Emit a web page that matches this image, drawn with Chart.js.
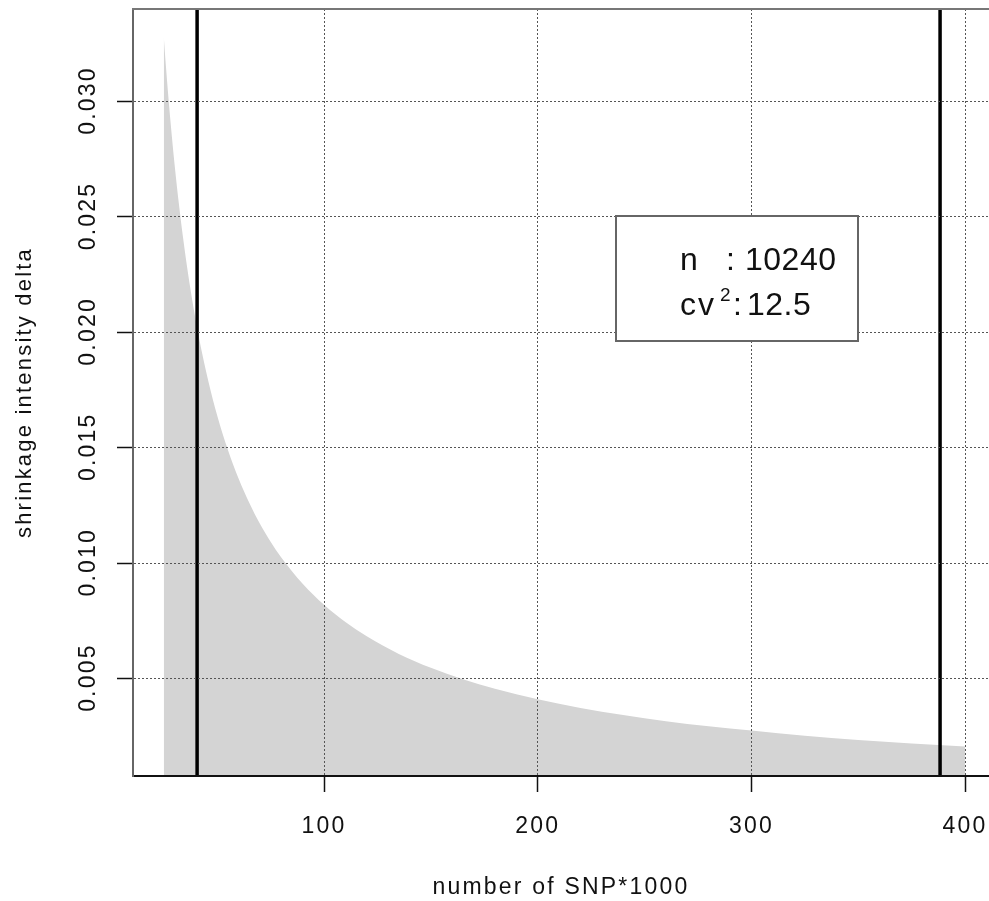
<!DOCTYPE html>
<html>
<head>
<meta charset="utf-8">
<style>
  html, body { margin: 0; padding: 0; background: #fff; overflow: hidden; }
</style>
<script src="https://cdn.jsdelivr.net/npm/chart.js@4/dist/chart.umd.min.js"></script>
</head>
<body>
<canvas id="shrinkChart" width="989" height="901"></canvas>
<script>
// number of SNP (x1000) and shrinkage intensity
const snpCount = [25, 26, 27, 28, 30, 32, 34, 36, 38, 40, 43, 46, 50, 55, 60, 65, 70, 75, 80, 90, 100, 110, 120, 135, 150, 165, 180, 200, 220, 240, 260, 280, 300, 325, 350, 375, 400];
const delta = [0.0328, 0.03154, 0.03037, 0.02929, 0.02733, 0.02563, 0.02412, 0.02278, 0.02158, 0.0205, 0.01907, 0.01783, 0.0164, 0.01491, 0.01367, 0.01262, 0.01171, 0.01093, 0.01025, 0.00911, 0.0082, 0.00745, 0.00683, 0.00607, 0.00547, 0.00497, 0.00456, 0.0041, 0.00373, 0.00342, 0.00315, 0.00293, 0.00275, 0.00252, 0.00234, 0.00219, 0.00206];
const markerX = [40.6, 388.3];            // the two black vertical lines
const xTicks = [100, 200, 300, 400];
const yTicks = [0.005, 0.010, 0.015, 0.020, 0.025, 0.030];
const yTickLabels = ['0.005', '0.010', '0.015', '0.020', '0.025', '0.030'];
const xRange = [10.6, 411.2];
const yRange = [0.00078, 0.03401];

const FONT = '"Liberation Sans", Arial, Helvetica, sans-serif';
const ctx = document.getElementById('shrinkChart').getContext('2d');

// R's text comes out wider, spread the axis text a bit
const spacing = {
    id: 'spacing',
    beforeDraw(chart) { chart.ctx.letterSpacing = '2.2px'; }
};

// frame top line, rotated y labels and the legend box
const extras = {
    id: 'extras',
    afterDraw(chart) {
        const c = chart.ctx;
        const area = chart.chartArea;
        const y = chart.scales.y;
        c.save();
        // top edge of the box
        c.strokeStyle = '#777';
        c.lineWidth = 2;
        c.beginPath();
        c.moveTo(area.left - 1, area.top);
        c.lineTo(area.right, area.top);
        c.stroke();

        // y tick labels, turned like R does
        c.fillStyle = '#111';
        c.font = '23px ' + FONT;
        c.textAlign = 'center';
        c.textBaseline = 'middle';
        yTicks.forEach((v, i) => {
            c.save();
            c.translate(89, y.getPixelForValue(v) - 1);
            c.rotate(-Math.PI / 2);
            c.fillText(yTickLabels[i], 0, 0);
            c.restore();
        });

        // legend
        c.letterSpacing = '0.5px';
        c.fillStyle = '#fff';
        c.fillRect(616, 216, 242, 125);
        c.strokeStyle = '#666';
        c.lineWidth = 2;
        c.strokeRect(616, 216, 242, 125);
        c.fillStyle = '#111';
        c.textAlign = 'left';
        c.textBaseline = 'alphabetic';
        c.font = '32px ' + FONT;
        c.fillText('n', 680, 270);
        c.fillText(':', 726, 270);
        c.fillText('10240', 745, 270);
        c.letterSpacing = '2px';
        c.fillText('cv', 680, 315);
        c.letterSpacing = '0.5px';
        c.fillText(':', 733, 315);
        c.fillText('12.5', 747, 315);
        c.font = '19px ' + FONT;
        c.fillText('2', 720, 301);
        c.restore();
    }
};

const gridStyle = {
    color: '#555',
    lineWidth: 1,
    tickLength: 16,
    tickColor: '#111',
    tickWidth: 1.5,
    z: 1
};

new Chart(ctx, {
    type: 'line',
    data: {
        datasets: [
            {
                data: snpCount.map((x, i) => ({ x: x, y: delta[i] })),
                backgroundColor: '#d4d4d4',
                borderWidth: 0,
                pointRadius: 0,
                cubicInterpolationMode: 'monotone',
                fill: 'start',
                order: 2
            },
            ...markerX.map(mx => ({
                data: [{ x: mx, y: yRange[0] }, { x: mx, y: yRange[1] }],
                borderColor: '#000',
                borderWidth: 3.5,
                pointRadius: 0,
                fill: false,
                order: 1
            }))
        ]
    },
    options: {
        responsive: false,
        animation: false,
        devicePixelRatio: 1,
        layout: { padding: { top: 9, left: 0, right: 0, bottom: 0 } },
        plugins: {
            legend: { display: false },
            tooltip: { enabled: false }
        },
        scales: {
            x: {
                type: 'linear',
                min: xRange[0],
                max: xRange[1],
                afterBuildTicks: s => { s.ticks = xTicks.map(v => ({ value: v })); },
                afterFit: s => {
                    s.height = 125;
                    s.paddingLeft = 0;
                    s.paddingRight = 0;
                },
                grid: gridStyle,
                border: { color: '#111', width: 2, dash: [2, 2], z: 1 },
                ticks: {
                    color: '#111',
                    font: { size: 23, family: FONT },
                    padding: 21,
                    maxRotation: 0,
                    autoSkip: false,
                    callback: v => String(v)
                },
                title: {
                    display: true,
                    text: 'number of SNP*1000',
                    color: '#111',
                    font: { size: 23, family: FONT },
                    padding: { top: 0, bottom: 0 }
                }
            },
            y: {
                type: 'linear',
                min: yRange[0],
                max: yRange[1],
                afterBuildTicks: s => { s.ticks = yTicks.map(v => ({ value: v })); },
                afterFit: s => { s.width = 133; },
                grid: gridStyle,
                border: { color: '#666', width: 2, dash: [2, 2], z: 1 },
                ticks: { display: false },
                title: {
                    display: true,
                    text: 'shrinkage intensity delta',
                    color: '#111',
                    font: { size: 22, family: FONT },
                    padding: { top: 12, bottom: 0 }
                }
            }
        }
    },
    plugins: [spacing, extras]
});
</script>
</body>
</html>
